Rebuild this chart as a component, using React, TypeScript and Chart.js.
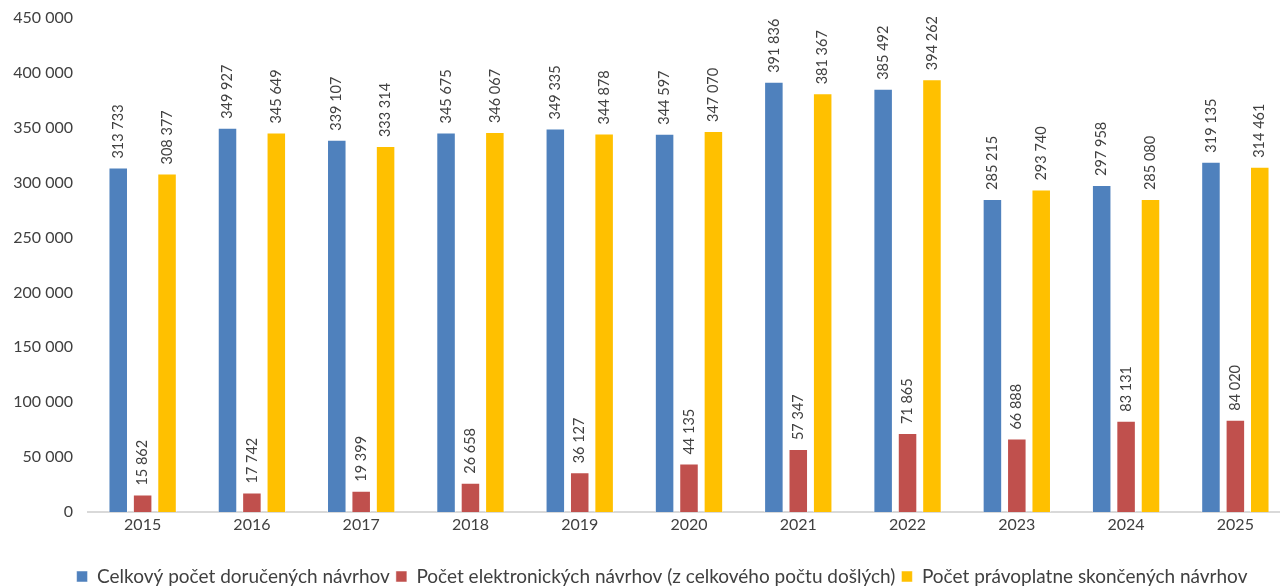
import React, { useEffect, useRef } from "react";
import { Chart, registerables } from "chart.js";

Chart.register(...registerables);

const years = ["2015", "2016", "2017", "2018", "2019", "2020", "2021", "2022", "2023", "2024", "2025"];
const totalReceived = [313733, 349927, 339107, 345675, 349335, 344597, 391836, 385492, 285215, 297958, 319135];
const electronic = [15862, 17742, 19399, 26658, 36127, 44135, 57347, 71865, 66888, 83131, 84020];
const finished = [308377, 345649, 333314, 346067, 344878, 347070, 381367, 394262, 293740, 285080, 314461];
const seriesNames = [
  "Celkový počet doručených návrhov",
  "Počet elektronických návrhov (z celkového počtu došlých)",
  "Počet právoplatne skončených návrhov",
];
const seriesColors = ["#4F81BD", "#C0504D", "#FFC000"];

const fmt = (v: number) => String(Math.round(v)).replace(/\B(?=(\d{3})+(?!\d))/g, " ");
const FONT = "Lato, 'Open Sans', sans-serif";
const CANVAS_H = 596;

const labelPlugin = {
  id: "barLabels",
  afterDatasetsDraw(chart: any) {
    const ctx = chart.ctx;
    ctx.save();
    ctx.font = `14.5px ${FONT}`;
    ctx.fillStyle = "#404040";
    ctx.textAlign = "left";
    ctx.textBaseline = "middle";
    chart.data.datasets.forEach((ds: any, di: number) => {
      const meta = chart.getDatasetMeta(di);
      meta.data.forEach((el: any, i: number) => {
        ctx.save();
        ctx.translate(el.x, el.y - 9);
        ctx.rotate(-Math.PI / 2);
        ctx.fillText(fmt(ds.data[i]), 0, 0);
        ctx.restore();
      });
    });
    ctx.restore();
  },
};

// shift the bottom legend so it is centred like the reference
const legendShift = {
  id: "legendShift",
  afterLayout(chart: any) {
    const lg = chart.legend;
    if (lg) {
      lg.left += 17;
      lg.right += 17;
    }
  },
};

export default function App() {
  const ref = useRef<HTMLCanvasElement>(null);
  useEffect(() => {
    const datasets = [totalReceived, electronic, finished].map((d, i) => ({
      label: seriesNames[i],
      data: d,
      backgroundColor: seriesColors[i],
      borderColor: "rgba(255,255,255,0.5)",
      borderWidth: 1,
      categoryPercentage: 0.67,
      barPercentage: 0.8,
    }));
    const chart = new Chart(ref.current!, {
      type: "bar",
      data: { labels: years, datasets },
      options: {
        animation: false,
        responsive: false,
        maintainAspectRatio: false,
        layout: { autoPadding: false, padding: { top: 18, right: 10, left: 0, bottom: 0 } },
        plugins: {
          legend: {
            position: "bottom",
            labels: {
              font: { family: FONT, size: 19 },
              color: "#404040",
              boxWidth: 11,
              boxHeight: 11,
              padding: 6,
            },
          },
          tooltip: { enabled: false },
        },
        scales: {
          x: {
            grid: { display: false, drawTicks: false },
            border: { display: true, color: "#D9D9D9", width: 2 },
            ticks: { font: { family: FONT, size: 16 }, color: "#404040", padding: 3 },
            afterFit: (s: any) => { s.height = 49; },
          },
          y: {
            min: 0,
            max: 450000,
            grid: { display: false, drawTicks: true, tickLength: 7 },
            border: { display: false },
            ticks: {
              stepSize: 50000,
              font: { family: FONT, size: 16 },
              color: "#404040",
              padding: 8,
              callback: (v: any) => fmt(Number(v)),
            },
            afterFit: (s: any) => { s.width = 88; },
          },
        },
      },
      plugins: [labelPlugin, legendShift],
    });
    return () => chart.destroy();
  }, []);
  return (
    <div style={{ position: "fixed", left: 0, top: 0, width: 1280, height: 588, overflow: "hidden", background: "#fff" }}>
      <canvas ref={ref} width={1300} height={CANVAS_H} style={{ width: 1300, height: CANVAS_H, display: "block" }} />
    </div>
  );
}
